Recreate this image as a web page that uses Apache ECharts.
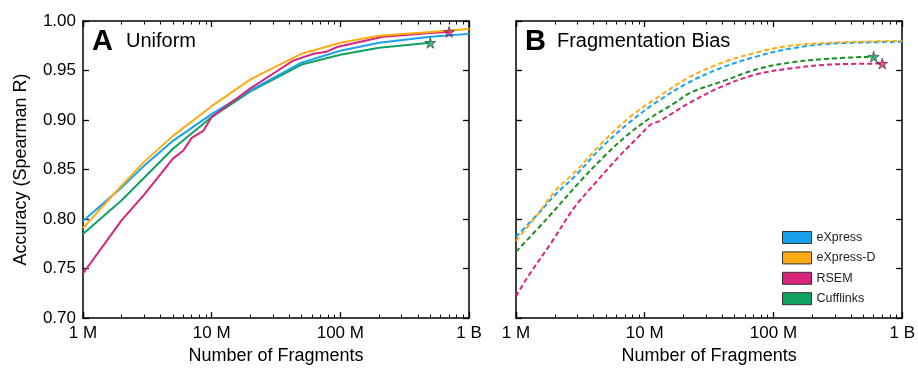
<!DOCTYPE html>
<html>
<head>
<meta charset="utf-8">
<script src="https://cdn.jsdelivr.net/npm/echarts@6/dist/echarts.min.js"></script>
<style>
  html, body { margin: 0; padding: 0; background: #fff; }
  #chart { width: 918px; height: 370px; }
</style>
</head>
<body>
<div id="chart"></div>
<script>
// ---- data ----
const tickNames = { 1e6: '1 M', 1e7: '10 M', 1e8: '100 M', 1e9: '1 B' };

// panel A: uniform
const uniX = [1e6, 2e6, 3e6, 5e6, 1e7, 2e7, 5e7, 1e8, 2e8, 5e8, 1e9];
const uniExpress = [0.798, 0.832, 0.854, 0.879, 0.906, 0.930, 0.958, 0.970, 0.978, 0.984, 0.987];
const uniExpressD = [0.791, 0.834, 0.858, 0.884, 0.914, 0.941, 0.967, 0.978, 0.985, 0.989, 0.992];
const uniCuffX = [1e6, 2e6, 3e6, 5e6, 1e7, 2e7, 5e7, 1e8, 2e8, 5e8];
const uniCuff = [0.785, 0.819, 0.842, 0.871, 0.903, 0.929, 0.956, 0.966, 0.973, 0.978];
const uniRsemX = [1e6, 2e6, 3e6, 5e6, 6e6, 7e6, 8.6e6, 1e7, 2e7, 3.1e7, 4.3e7, 6.2e7, 7.8e7, 9.6e7, 2.15e8, 5e8, 7e8];
const uniRsem = [0.745, 0.799, 0.825, 0.861, 0.869, 0.882, 0.889, 0.903, 0.932, 0.948, 0.960, 0.967, 0.969, 0.974, 0.984, 0.988, 0.989];

// panel B: fragmentation bias
const fragX = [1e6, 1.5e6, 2e6, 3e6, 4.5e6, 7.5e6, 1.2e7, 2.2e7, 4e7, 7.3e7, 1.33e8, 2.72e8, 1e9];
const fragExpress = [0.782, 0.806, 0.824, 0.846, 0.871, 0.897, 0.917, 0.938, 0.953, 0.964, 0.972, 0.977, 0.979];
const fragExpressD = [0.778, 0.806, 0.828, 0.850, 0.875, 0.902, 0.921, 0.943, 0.958, 0.968, 0.975, 0.978, 0.980];
const fragCuffX = [1e6, 1.7e6, 3.2e6, 4.9e6, 7.2e6, 1.1e7, 1.7e7, 2.3e7, 4e7, 7.3e7, 1.33e8, 2.72e8, 6e8];
const fragCuff = [0.767, 0.799, 0.839, 0.864, 0.884, 0.902, 0.917, 0.928, 0.939, 0.951, 0.958, 0.962, 0.964];
const fragRsemX = [1e6, 1.24e6, 1.9e6, 2.85e6, 4.3e6, 6.4e6, 9.4e6, 1.1e7, 1.3e7, 1.6e7, 2.2e7, 4e7, 7.3e7, 1.33e8, 2.72e8, 7e8];
const fragRsem = [0.722, 0.742, 0.777, 0.812, 0.839, 0.864, 0.886, 0.895, 0.899, 0.906, 0.917, 0.934, 0.946, 0.952, 0.956, 0.957];

// end-point stars
const uniStars = { Cufflinks: [5e8, 0.978], RSEM: [7e8, 0.989] };
const fragStars = { Cufflinks: [6e8, 0.964], RSEM: [7e8, 0.957] };

const names = ['eXpress', 'eXpress-D', 'RSEM', 'Cufflinks'];

// ---- styling ----
const C = { blue: '#18A2EE', orange: '#FDAB14', pink: '#D8247A', green: '#0FA261', greenB: '#1F8C22' };
const FONT = 'Liberation Sans, Arial, Helvetica, sans-serif';
const STAR = 'path://M50,0 L61,35 L98,35 L68,57 L79,91 L50,70 L21,91 L32,57 L2,35 L39,35 Z';
const TICK = '#000';

const pairs = (xs, ys) => xs.map((x, i) => [x, ys[i]]);

const chart = echarts.init(document.getElementById('chart'));

function xAxes(grid) {
  const base = {
    gridIndex: grid, type: 'log', min: 1e6, max: 1e9,
    axisLine: { show: true, lineStyle: { color: '#000', width: 1.5 } },
    axisTick: { show: true, inside: true, length: 6, lineStyle: { color: TICK, width: 1.3 } },
    // log minor ticks land on 2..9 of each decade
    minorTick: { show: true, splitNumber: 9, length: 3.5, lineStyle: { color: TICK, width: 1 } },
    splitLine: { show: false },
  };
  return [
    Object.assign({}, base, {
      position: 'bottom',
      axisLabel: { show: true, formatter: v => tickNames[Math.round(v)] || '', color: '#000', fontSize: 17, fontFamily: FONT, margin: 7 },
      name: 'Number of Fragments', nameLocation: 'middle', nameGap: 27,
      nameTextStyle: { fontSize: 18, color: '#000', fontFamily: FONT },
    }),
    Object.assign({}, base, { position: 'top', axisLabel: { show: false } }),
  ];
}

function yAxes(grid, labelled) {
  const base = {
    gridIndex: grid, type: 'value', min: 0.7, max: 1.0, interval: 0.05,
    axisLine: { show: true, lineStyle: { color: '#000', width: 1.5 } },
    axisTick: { show: true, inside: true, length: 6, lineStyle: { color: TICK, width: 1.3 } },
    splitLine: { show: false },
  };
  const left = Object.assign({}, base, {
    position: 'left',
    axisLabel: { show: labelled, formatter: v => v.toFixed(2), color: '#000', fontSize: 17, fontFamily: FONT, margin: 7 },
  });
  if (labelled) {
    Object.assign(left, {
      name: 'Accuracy (Spearman R)', nameLocation: 'middle', nameGap: 53,
      nameTextStyle: { fontSize: 18, color: '#000', fontFamily: FONT },
    });
  }
  const right = Object.assign({}, base, { position: 'right', axisLabel: { show: false } });
  return [left, right];
}

function line(name, xs, ys, color, xi, yi, dashed) {
  return {
    name, type: 'line', xAxisIndex: xi, yAxisIndex: yi,
    data: pairs(xs, ys), symbol: 'none', smooth: dashed ? 0.35 : false,
    color,
    lineStyle: { color, width: 2, type: dashed ? [5, 3] : 'solid' },
    itemStyle: { color },
  };
}

function star(pt, color, xi, yi) {
  return {
    name: 'end', type: 'scatter', xAxisIndex: xi, yAxisIndex: yi, z: 5,
    data: [pt], symbol: STAR, symbolSize: 11,
    itemStyle: { color, borderColor: '#333', borderWidth: 0.8 },
  };
}

const titleRich = {
  a: { fontSize: 29, fontWeight: 'bold', color: '#000', fontFamily: FONT },
  b: { fontSize: 20, fontWeight: 'normal', color: '#000', fontFamily: FONT },
};

const option = {
  backgroundColor: '#fff',
  animation: false,
  textStyle: { fontFamily: FONT },
  title: [
    {
      text: '{a|A}{g1|}{b|Uniform}', left: 92, top: 27, padding: 0,
      textStyle: { fontWeight: 'normal', rich: Object.assign({ g1: { width: 13 } }, titleRich) },
    },
    {
      text: '{a|B}{g2|}{b|Fragmentation Bias}', left: 525, top: 27, padding: 0,
      textStyle: { fontWeight: 'normal', rich: Object.assign({ g2: { width: 11 } }, titleRich) },
    },
  ],
  legend: {
    data: names, orient: 'vertical', left: 782, top: 231, padding: 0,
    icon: 'rect', itemWidth: 29, itemHeight: 12, itemGap: 7.4,
    itemStyle: { borderColor: '#333', borderWidth: 1 },
    textStyle: { fontSize: 12.5, color: '#222', fontFamily: FONT },
    selectedMode: false,
  },
  grid: [
    { left: 83, top: 21, width: 386, height: 299 },
    { left: 516, top: 21, width: 387, height: 299 },
  ],
  xAxis: [...xAxes(0), ...xAxes(1)],
  yAxis: [...yAxes(0, true), ...yAxes(1, false)],
  series: [
    line('Cufflinks', uniCuffX, uniCuff, C.green, 0, 0, false),
    line('eXpress', uniX, uniExpress, C.blue, 0, 0, false),
    line('RSEM', uniRsemX, uniRsem, C.pink, 0, 0, false),
    line('eXpress-D', uniX, uniExpressD, C.orange, 0, 0, false),
    star(uniStars.Cufflinks, C.green, 0, 0),
    star(uniStars.RSEM, C.pink, 0, 0),

    line('RSEM', fragRsemX, fragRsem, C.pink, 2, 2, true),
    line('Cufflinks', fragCuffX, fragCuff, C.greenB, 2, 2, true),
    line('eXpress', fragX, fragExpress, C.blue, 2, 2, true),
    line('eXpress-D', fragX, fragExpressD, C.orange, 2, 2, true),
    star(fragStars.Cufflinks, C.green, 2, 2),
    star(fragStars.RSEM, C.pink, 2, 2),
  ],
};

chart.setOption(option);
</script>
</body>
</html>
